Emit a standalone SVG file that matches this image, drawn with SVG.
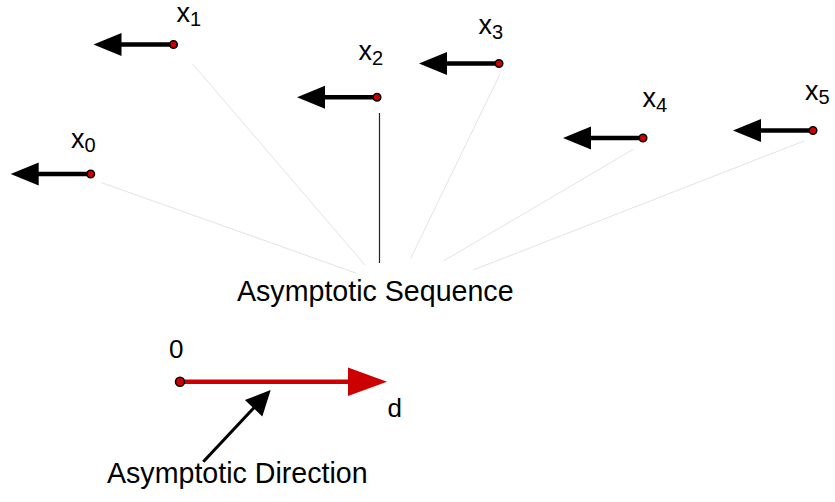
<svg xmlns="http://www.w3.org/2000/svg" xmlns:xlink="http://www.w3.org/1999/xlink" width="835" height="502" viewBox="0 0 835 502">
<style>
text{font-family:"Liberation Sans",Arial,sans-serif;fill:#000}
.lbl{font-size:27px}
.num{font-size:26px}
.sub{font-size:20px}
.big{font-size:28.6px}
.ray{stroke:#e3e3e3;stroke-width:1;fill:none}
.dot{fill:#cc0000;stroke:#000;stroke-width:1.5}
</style>
<defs>
<g id="leftArrow">
<line x1="0" y1="0" x2="-53" y2="0" stroke="#000" stroke-width="4.5"/>
<polygon points="-52,-11.5 -80,0 -52,11.5" fill="#000"/>
<circle cx="0" cy="0" r="3.8" class="dot"/>
</g>
</defs>
<rect width="835" height="502" fill="#fff"/>
<g id="connectors">
<line class="ray" x1="101.7" y1="182.7" x2="356.7" y2="273.3"/>
<line class="ray" x1="192.7" y1="64" x2="365" y2="265"/>
<line x1="379.5" y1="113" x2="379.5" y2="263" stroke="#222" stroke-width="1.2"/>
<line class="ray" x1="500" y1="74" x2="410.7" y2="258.3"/>
<line class="ray" x1="633.3" y1="149.3" x2="444" y2="260.7"/>
<line class="ray" x1="804" y1="141" x2="473.3" y2="270"/>
</g>
<g id="x0"><use xlink:href="#leftArrow" x="90.7" y="174"/><text class="lbl" x="71" y="148">x<tspan class="sub" dy="4">0</tspan></text></g>
<g id="x1"><use xlink:href="#leftArrow" x="173.5" y="44.5"/><text class="lbl" x="176.5" y="21.5">x<tspan class="sub" dy="4">1</tspan></text></g>
<g id="x2"><use xlink:href="#leftArrow" x="377" y="97.3"/><text class="lbl" x="358.5" y="60">x<tspan class="sub" dy="5">2</tspan></text></g>
<g id="x3"><use xlink:href="#leftArrow" x="499" y="63.5"/><text class="lbl" x="478.5" y="34.3">x<tspan class="sub" dy="5">3</tspan></text></g>
<g id="x4"><use xlink:href="#leftArrow" x="643" y="138"/><text class="lbl" x="642.5" y="106.7">x<tspan class="sub" dy="5">4</tspan></text></g>
<g id="x5"><use xlink:href="#leftArrow" x="813" y="130.5"/><text class="lbl" x="805" y="100">x<tspan class="sub" dy="4">5</tspan></text></g>
<g id="seq"><text class="big" x="237" y="301">Asymptotic Sequence</text></g>
<g id="direction">
<line x1="180" y1="381.7" x2="350" y2="381.7" stroke="#cc0000" stroke-width="4.5"/>
<polygon points="348,367.5 387,381.7 348,396" fill="#cc0000"/>
<circle cx="180" cy="381.7" r="4.5" class="dot"/>
<text class="num" x="169" y="358.3">0</text>
<text class="num" x="387.5" y="416.7">d</text>
</g>
<g id="dirLabel">
<line x1="203.3" y1="461.7" x2="256" y2="405.6" stroke="#000" stroke-width="3"/>
<polygon points="270.7,390 262.3,416.4 244.9,400" fill="#000"/>
<text class="big" x="107" y="483">Asymptotic Direction</text>
</g>
</svg>
